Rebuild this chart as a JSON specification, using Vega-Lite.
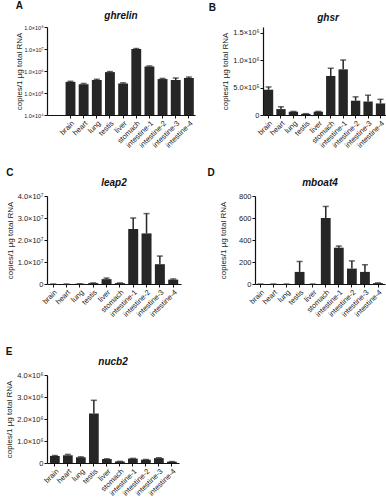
{
  "$schema": "https://vega.github.io/schema/vega-lite/v6.json",
  "background": "white",
  "padding": {"left": 5, "top": 1, "right": 2, "bottom": 0},
  "config": {
    "view": {"stroke": null},
    "font": "Liberation Sans",
    "axis": {"domainColor": "#111", "domainWidth": 1.2, "tickColor": "#111", "tickSize": 3, "tickWidth": 1, "labelColor": "#1a1a1a", "titleColor": "#1a1a1a", "grid": false, "labelFont": "Liberation Sans", "titleFont": "Liberation Sans", "titleFontWeight": "normal", "labelOverlap": false, "labelFlush": false},
    "axisX": {"labelAngle": -45, "labelFontSize": 7.5, "labelPadding": 1, "title": null},
    "axisY": {"titleFontSize": 8, "labelFontSize": 7.5, "labelPadding": 1, "tickCount": 10},
    "title": {"font": "Liberation Sans", "color": "#111"},
    "bar": {"color": "#262626"},
    "rule": {"color": "#262626", "strokeWidth": 1.5},
    "tick": {"color": "#262626", "thickness": 1.5}
  },
  "datasets": {
    "expr": [
      {"gene": "ghrelin", "tissue": "brain", "mean": 320000, "upper": 340000},
      {"gene": "ghrelin", "tissue": "heart", "mean": 250000, "upper": 270000},
      {"gene": "ghrelin", "tissue": "lung", "mean": 390000, "upper": 420000},
      {"gene": "ghrelin", "tissue": "testis", "mean": 890000, "upper": 940000},
      {"gene": "ghrelin", "tissue": "liver", "mean": 270000, "upper": 290000},
      {"gene": "ghrelin", "tissue": "stomach", "mean": 10000000, "upper": 10500000},
      {"gene": "ghrelin", "tissue": "intestine-1", "mean": 1600000, "upper": 1700000},
      {"gene": "ghrelin", "tissue": "intestine-2", "mean": 430000, "upper": 460000},
      {"gene": "ghrelin", "tissue": "intestine-3", "mean": 390000, "upper": 480000},
      {"gene": "ghrelin", "tissue": "intestine-4", "mean": 480000, "upper": 530000},
      {"gene": "ghsr", "tissue": "brain", "mean": 460000, "upper": 510000},
      {"gene": "ghsr", "tissue": "heart", "mean": 107000, "upper": 150000},
      {"gene": "ghsr", "tissue": "lung", "mean": 60000, "upper": 65000},
      {"gene": "ghsr", "tissue": "testis", "mean": 22000, "upper": 24000},
      {"gene": "ghsr", "tissue": "liver", "mean": 60000, "upper": 65000},
      {"gene": "ghsr", "tissue": "stomach", "mean": 710000, "upper": 850000},
      {"gene": "ghsr", "tissue": "intestine-1", "mean": 830000, "upper": 1000000},
      {"gene": "ghsr", "tissue": "intestine-2", "mean": 260000, "upper": 330000},
      {"gene": "ghsr", "tissue": "intestine-3", "mean": 245000, "upper": 360000},
      {"gene": "ghsr", "tissue": "intestine-4", "mean": 210000, "upper": 285000},
      {"gene": "leap2", "tissue": "brain", "mean": 0, "upper": 0},
      {"gene": "leap2", "tissue": "heart", "mean": 0, "upper": 0},
      {"gene": "leap2", "tissue": "lung", "mean": 100000, "upper": 120000},
      {"gene": "leap2", "tissue": "testis", "mean": 400000, "upper": 500000},
      {"gene": "leap2", "tissue": "liver", "mean": 2200000, "upper": 2700000},
      {"gene": "leap2", "tissue": "stomach", "mean": 400000, "upper": 500000},
      {"gene": "leap2", "tissue": "intestine-1", "mean": 25000000, "upper": 30000000},
      {"gene": "leap2", "tissue": "intestine-2", "mean": 23000000, "upper": 32000000},
      {"gene": "leap2", "tissue": "intestine-3", "mean": 9000000, "upper": 12700000},
      {"gene": "leap2", "tissue": "intestine-4", "mean": 2000000, "upper": 2300000},
      {"gene": "mboat4", "tissue": "brain", "mean": 0, "upper": 0},
      {"gene": "mboat4", "tissue": "heart", "mean": 0, "upper": 0},
      {"gene": "mboat4", "tissue": "lung", "mean": 0, "upper": 0},
      {"gene": "mboat4", "tissue": "testis", "mean": 110, "upper": 205},
      {"gene": "mboat4", "tissue": "liver", "mean": 0, "upper": 0},
      {"gene": "mboat4", "tissue": "stomach", "mean": 600, "upper": 705},
      {"gene": "mboat4", "tissue": "intestine-1", "mean": 330, "upper": 345},
      {"gene": "mboat4", "tissue": "intestine-2", "mean": 140, "upper": 210},
      {"gene": "mboat4", "tissue": "intestine-3", "mean": 110, "upper": 175},
      {"gene": "mboat4", "tissue": "intestine-4", "mean": 8, "upper": 10},
      {"gene": "nucb2", "tissue": "brain", "mean": 320000, "upper": 340000},
      {"gene": "nucb2", "tissue": "heart", "mean": 350000, "upper": 390000},
      {"gene": "nucb2", "tissue": "lung", "mean": 260000, "upper": 280000},
      {"gene": "nucb2", "tissue": "testis", "mean": 2250000, "upper": 2850000},
      {"gene": "nucb2", "tissue": "liver", "mean": 180000, "upper": 190000},
      {"gene": "nucb2", "tissue": "stomach", "mean": 70000, "upper": 75000},
      {"gene": "nucb2", "tissue": "intestine-1", "mean": 200000, "upper": 210000},
      {"gene": "nucb2", "tissue": "intestine-2", "mean": 150000, "upper": 160000},
      {"gene": "nucb2", "tissue": "intestine-3", "mean": 220000, "upper": 240000},
      {"gene": "nucb2", "tissue": "intestine-4", "mean": 60000, "upper": 65000}
    ]
  },
  "data": {"name": "expr"},
  "spacing": 19,
  "vconcat": [
    {
      "spacing": 13,
      "hconcat": [
        {
          "title": {"text": "A", "anchor": "start", "fontSize": 10, "fontWeight": "bold", "offset": 0},
          "vconcat": [
            {
              "width": 148, "height": 88,
              "title": {"text": "ghrelin", "fontStyle": "italic", "fontWeight": "bold", "fontSize": 10, "offset": 4},
              "transform": [{"filter": "datum.gene === 'ghrelin'"}],
              "encoding": {
                "x": {"field": "tissue", "type": "nominal", "sort": ["brain", "heart", "lung", "testis", "liver", "stomach", "intestine-1", "intestine-2", "intestine-3", "intestine-4"], "scale": {"paddingInner": 0.25, "paddingOuter": 0.75, "align": 0.94}}
              },
              "layer": [
                {"mark": "bar", "encoding": {"y": {"field": "mean", "type": "quantitative", "scale": {"type": "log", "domain": [10000, 100000000]}, "axis": {"title": "copies/1 µg total RNA", "values": [10000, 100000, 1000000, 10000000, 100000000], "labelFontSize": 5.5, "titlePadding": 0, "labelExpr": "'1.0×10' + ['⁴','⁵','⁶','⁷','⁸'][round(log(datum.value)/LN10) - 4]"}}, "y2": {"datum": 10000}}},
                {"mark": "rule", "encoding": {"y": {"field": "mean", "type": "quantitative"}, "y2": {"field": "upper"}}},
                {"mark": {"type": "tick", "size": 6}, "encoding": {"y": {"field": "upper", "type": "quantitative"}}}
              ]
            }
          ]
        },
        {
          "title": {"text": "B", "anchor": "start", "fontSize": 10, "fontWeight": "bold", "offset": 0, "dx": -13},
          "vconcat": [
            {
              "width": 130, "height": 88,
              "title": {"text": "ghsr", "fontStyle": "italic", "fontWeight": "bold", "fontSize": 10, "offset": 4},
              "transform": [{"filter": "datum.gene === 'ghsr'"}],
              "encoding": {
                "x": {"field": "tissue", "type": "nominal", "sort": ["brain", "heart", "lung", "testis", "liver", "stomach", "intestine-1", "intestine-2", "intestine-3", "intestine-4"], "scale": {"paddingInner": 0.25, "paddingOuter": 0.35, "align": 0.1}}
              },
              "layer": [
                {"mark": "bar", "encoding": {"y": {"field": "mean", "type": "quantitative", "scale": {"domain": [0, 1500000]}, "axis": {"title": "copies/1 µg total RNA", "values": [0, 500000, 1000000, 1500000], "titlePadding": 3, "labelExpr": "datum.value == 0 ? '0' : datum.value == 500000 ? '5.0×10⁵' : datum.value == 1000000 ? '1.0×10⁶' : '1.5×10⁶'"}}}},
                {"mark": "rule", "encoding": {"y": {"field": "mean", "type": "quantitative"}, "y2": {"field": "upper"}}},
                {"mark": {"type": "tick", "size": 6}, "encoding": {"y": {"field": "upper", "type": "quantitative"}}}
              ]
            }
          ]
        }
      ]
    },
    {
      "spacing": 29,
      "vconcat": [
        {
          "spacing": 26,
          "hconcat": [
            {
              "title": {"text": "C", "anchor": "start", "fontSize": 10, "fontWeight": "bold", "offset": 0},
              "vconcat": [
                {
                  "width": 134, "height": 88,
                  "title": {"text": "leap2", "fontStyle": "italic", "fontWeight": "bold", "fontSize": 10, "offset": 4},
                  "transform": [{"filter": "datum.gene === 'leap2'"}],
                  "encoding": {
                    "x": {"field": "tissue", "type": "nominal", "sort": ["brain", "heart", "lung", "testis", "liver", "stomach", "intestine-1", "intestine-2", "intestine-3", "intestine-4"], "scale": {"paddingInner": 0.25, "paddingOuter": 0.15, "align": 0.3}}
                  },
                  "layer": [
                    {"mark": "bar", "encoding": {"y": {"field": "mean", "type": "quantitative", "scale": {"domain": [0, 40000000]}, "axis": {"title": "copies/1 µg total RNA", "values": [0, 10000000, 20000000, 30000000, 40000000], "titlePadding": 3, "labelExpr": "datum.value == 0 ? '0' : format(datum.value / 10000000, '.1f') + '×10⁷'"}}}},
                    {"mark": "rule", "encoding": {"y": {"field": "mean", "type": "quantitative"}, "y2": {"field": "upper"}}},
                    {"mark": {"type": "tick", "size": 6}, "encoding": {"y": {"field": "upper", "type": "quantitative"}}}
                  ]
                }
              ]
            },
            {
              "title": {"text": "D", "anchor": "start", "fontSize": 10, "fontWeight": "bold", "offset": 0, "dx": -12},
              "vconcat": [
                {
                  "width": 130, "height": 88,
                  "title": {"text": "mboat4", "fontStyle": "italic", "fontWeight": "bold", "fontSize": 10, "offset": 4},
                  "transform": [{"filter": "datum.gene === 'mboat4'"}],
                  "encoding": {
                    "x": {"field": "tissue", "type": "nominal", "sort": ["brain", "heart", "lung", "testis", "liver", "stomach", "intestine-1", "intestine-2", "intestine-3", "intestine-4"], "scale": {"paddingInner": 0.25, "paddingOuter": 0.1, "align": 0.2}}
                  },
                  "layer": [
                    {"mark": "bar", "encoding": {"y": {"field": "mean", "type": "quantitative", "scale": {"domain": [0, 800]}, "axis": {"title": "copies/1 µg total RNA", "values": [0, 200, 400, 600, 800], "titlePadding": 11}}}},
                    {"mark": "rule", "encoding": {"y": {"field": "mean", "type": "quantitative"}, "y2": {"field": "upper"}}},
                    {"mark": {"type": "tick", "size": 6}, "encoding": {"y": {"field": "upper", "type": "quantitative"}}}
                  ]
                }
              ]
            }
          ]
        },
        {
          "title": {"text": "E", "anchor": "start", "fontSize": 10, "fontWeight": "bold", "offset": 0},
          "vconcat": [
            {
              "width": 132, "height": 88,
              "title": {"text": "nucb2", "fontStyle": "italic", "fontWeight": "bold", "fontSize": 10, "offset": 4},
              "transform": [{"filter": "datum.gene === 'nucb2'"}],
              "encoding": {
                "x": {"field": "tissue", "type": "nominal", "sort": ["brain", "heart", "lung", "testis", "liver", "stomach", "intestine-1", "intestine-2", "intestine-3", "intestine-4"], "scale": {"paddingInner": 0.25, "paddingOuter": 0.2, "align": 0.57}}
              },
              "layer": [
                {"mark": "bar", "encoding": {"y": {"field": "mean", "type": "quantitative", "scale": {"domain": [0, 4000000]}, "axis": {"title": "copies/1 µg total RNA", "values": [0, 1000000, 2000000, 3000000, 4000000], "titlePadding": 3, "labelExpr": "datum.value == 0 ? '0' : format(datum.value / 1000000, '.1f') + '×10⁶'"}}}},
                {"mark": "rule", "encoding": {"y": {"field": "mean", "type": "quantitative"}, "y2": {"field": "upper"}}},
                {"mark": {"type": "tick", "size": 6}, "encoding": {"y": {"field": "upper", "type": "quantitative"}}}
              ]
            }
          ]
        }
      ]
    }
  ]
}
